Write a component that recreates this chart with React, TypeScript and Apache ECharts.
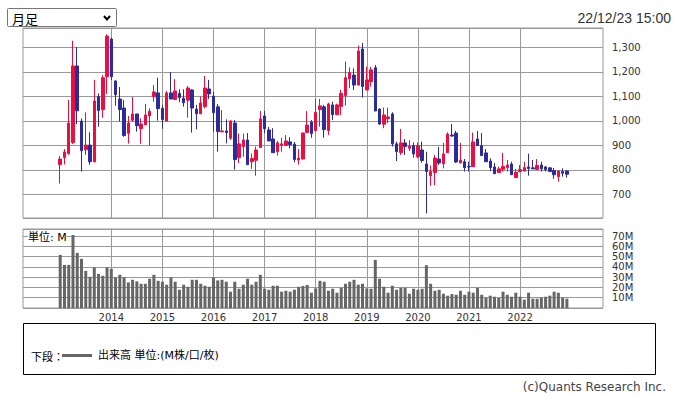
import React, { useEffect, useRef } from "react";
import * as echarts from "echarts";

// Monthly candles, Jan 2013 .. Dec 2022
const MONTHS: string[] = [];
for (let y = 2013; y <= 2022; y++) for (let mo = 1; mo <= 12; mo++) MONTHS.push(`${y}-${String(mo).padStart(2, "0")}`);

const OPEN = [
  822, 850, 866, 911, 1224, 999, 882, 901, 833, 1099, 1046, 1180,
  1334, 1163, 1089, 1052, 949, 1002, 1028, 968, 984, 1020, 1099, 1114,
  1051, 999, 1114, 1087, 1112, 1092, 1084, 1126, 1048, 1029, 1058, 1130,
  1101, 1057, 955, 959, 929, 991, 850, 895, 922, 833, 839, 891,
  1020, 963, 926, 874, 901, 900, 914, 905, 840, 844, 952, 995,
  960, 1046, 1057, 960, 1065, 1025, 1059, 1103, 1172, 1187, 1146, 1293,
  1126, 1160, 1217, 1048, 986, 1009, 1028, 906, 870, 910, 888, 899,
  854, 881, 824, 776, 789, 844, 825, 870, 942, 950, 829, 833,
  814, 813, 926, 899, 869, 836, 812, 789, 802, 809, 824, 768,
  793, 795, 812, 808, 801, 820, 812, 808, 797, 772, 793, 795,
];
const CLOSE = [
  844, 873, 991, 1224, 1041, 878, 901, 833, 1081, 1042, 1176, 1346,
  1180, 1107, 1046, 940, 991, 1028, 980, 987, 1024, 1039, 1118, 1050,
  1005, 1114, 1089, 1122, 1095, 1074, 1134, 1052, 1029, 1073, 1134, 1110,
  1033, 956, 959, 952, 999, 842, 906, 922, 821, 846, 881, 1008,
  968, 918, 870, 910, 906, 918, 903, 842, 848, 950, 983, 948,
  1035, 1061, 964, 1069, 1025, 1065, 1112, 1176, 1197, 1146, 1285, 1140,
  1167, 1208, 1040, 987, 1024, 1016, 906, 874, 910, 895, 897, 865,
  899, 838, 793, 793, 848, 828, 865, 946, 938, 832, 840, 809,
  812, 914, 899, 858, 833, 809, 784, 804, 814, 820, 780, 790,
  801, 809, 805, 804, 818, 804, 801, 793, 780, 795, 786, 782,
];
const LOW = [
  744, 822, 862, 905, 986, 793, 861, 821, 830, 976, 1013, 1110,
  1167, 1062, 997, 935, 907, 997, 956, 906, 983, 899, 1078, 1001,
  968, 999, 1089, 1086, 1076, 1058, 1013, 952, 965, 1027, 1051, 1089,
  956, 874, 954, 908, 922, 801, 828, 854, 821, 804, 776, 890,
  949, 917, 870, 858, 874, 899, 888, 831, 821, 843, 951, 931,
  959, 976, 931, 942, 1003, 1024, 1024, 1062, 1133, 1126, 1145, 1095,
  1125, 1140, 1040, 983, 970, 990, 895, 836, 861, 861, 877, 850,
  847, 829, 622, 735, 738, 820, 806, 869, 935, 828, 825, 793,
  793, 812, 898, 857, 833, 795, 784, 788, 793, 793, 780, 768,
  790, 793, 776, 803, 800, 793, 793, 793, 764, 752, 772, 768,
];
const HIGH = [
  857, 885, 1085, 1327, 1301, 1010, 1035, 953, 1167, 1112, 1187, 1353,
  1340, 1165, 1138, 1085, 1020, 1097, 1028, 1010, 1069, 1051, 1146, 1176,
  1065, 1122, 1199, 1171, 1129, 1129, 1142, 1129, 1065, 1099, 1183, 1167,
  1118, 1069, 1044, 1006, 1003, 1003, 948, 948, 950, 867, 895, 1040,
  1040, 975, 970, 918, 931, 942, 933, 914, 885, 953, 1040, 1003,
  1089, 1089, 1065, 1074, 1078, 1070, 1126, 1242, 1218, 1214, 1307, 1318,
  1221, 1221, 1228, 1051, 1054, 1054, 1035, 915, 967, 926, 921, 912,
  912, 915, 874, 817, 861, 893, 910, 953, 987, 959, 910, 844,
  833, 952, 959, 950, 885, 847, 828, 813, 869, 840, 833, 804,
  820, 833, 866, 840, 844, 833, 816, 812, 808, 795, 806, 798,
];
const VOLUME = [
  51.8, 42, 42, 71.2, 53.7, 47.9, 36.2, 30.4, 39.5, 33.3, 31.4, 39.5,
  38.2, 29.8, 32.4, 29.8, 24.9, 27.5, 25.9, 23.6, 23.6, 28.5, 32.4, 26.5,
  25.6, 22.7, 29.8, 25.6, 17.8, 22.7, 20.7, 27.5, 27.5, 23.6, 21.7, 20.7,
  29.8, 26.9, 27.5, 25.6, 15.9, 25.6, 18.8, 22.7, 28.5, 22.7, 25.6, 32.4,
  18.8, 17.8, 21.7, 21.7, 15.9, 16.8, 15.9, 17.8, 20.7, 21.5, 22.5, 14.9,
  19.1, 26.5, 25.6, 16.8, 18.8, 14.9, 19.7, 23.6, 25.6, 27.5, 22.7, 23.6,
  19.1, 18.8, 46.9, 28.5, 20.7, 14.9, 21.7, 17.8, 19.7, 19.7, 13.9, 18.8,
  17.8, 18.8, 41.7, 23.6, 16.8, 17.8, 13.9, 12.0, 13.6, 12.9, 16.8, 12.9,
  15.9, 14.9, 19.7, 12.9, 10.0, 12.0, 11.0, 10.0, 15.9, 12.9, 11.0, 14.9,
  11.0, 8.1, 14.9, 9.1, 9.1, 10.0, 11.0, 12.0, 15.9, 14.9, 10.0, 9.1,
];

const YEAR_TICKS = [0, 12, 24, 36, 48, 60, 72, 84, 96]; // months since Jan 2014
const YEAR_LABELS = ["2014", "2015", "2016", "2017", "2018", "2019", "2020", "2021", "2022"];
const BASE_YEAR = 2014;

const RED = "#ea0f40";
const BLUE = "#2b2b9c";
const GRID = "#999";
const VOL = "#666";

const monthPos = (s: string) => {
  const [y, m] = s.split("-").map(Number);
  return (y - BASE_YEAR) * 12 + (m - 1);
};

export default function App() {
  const ref = useRef<HTMLDivElement>(null);
  useEffect(() => {
    const chart = echarts.init(ref.current!, null, { renderer: "svg" });
    const xs = MONTHS.map(monthPos);
    const candles = xs.map((x, i) => [x, OPEN[i], CLOSE[i], LOW[i], HIGH[i]]);
    const vols = xs.map((x, i) => [x, VOLUME[i]]);
    const yearLines = {
      silent: true,
      symbol: ["none", "none"],
      label: { show: false },
      lineStyle: { color: GRID, width: 1, type: "solid" },
      emphasis: { disabled: true },
      animation: false,
      data: YEAR_TICKS.map((v) => ({ xAxis: v })),
    };
    const X_MIN = -20.74;
    const X_MAX = 115.48;
    const lblFont = "'DejaVu Sans', sans-serif";
    const cjk = "'DejaVu Sans', 'Noto Sans CJK JP', sans-serif";
    chart.setOption({
      animation: false,
      backgroundColor: "#fff",
      grid: [
        { left: 23, top: 28, width: 580, height: 190, show: true, borderColor: GRID, borderWidth: 1, backgroundColor: "transparent" },
        { left: 23, top: 229, width: 580, height: 79, show: true, borderColor: GRID, borderWidth: 1, backgroundColor: "transparent" },
      ],
      xAxis: [
        { gridIndex: 0, type: "value", min: X_MIN, max: X_MAX, axisLine: { show: false }, axisTick: { show: false }, axisLabel: { show: false }, splitLine: { show: false } },
        {
          gridIndex: 1, type: "value", min: X_MIN, max: X_MAX, minInterval: 12, maxInterval: 12,
          axisLine: { show: false }, axisTick: { show: false }, splitLine: { show: false },
          axisLabel: {
            show: true, margin: 4, fontSize: 10, color: "#333", fontFamily: lblFont,
            showMinLabel: false, showMaxLabel: false,
            formatter: (v: number) => {
              const k = YEAR_TICKS.indexOf(Math.round(v * 1000) / 1000);
              return k >= 0 ? YEAR_LABELS[k] : "";
            },
          },
        },
      ],
      yAxis: [
        {
          gridIndex: 0, type: "value", position: "right", min: 603.4, max: 1378.9, splitNumber: 8, minInterval: 100, maxInterval: 100,
          axisLine: { show: true, lineStyle: { color: GRID } },
          axisTick: { show: true, length: 3, lineStyle: { color: GRID } },
          axisLabel: { margin: 9, fontSize: 10, color: "#333", fontFamily: lblFont, showMinLabel: false, showMaxLabel: false, formatter: (v: number) => v.toLocaleString("en-US") },
          splitLine: { show: true, lineStyle: { color: GRID, width: 1 } },
        },
        {
          gridIndex: 1, type: "value", position: "right", min: 0, max: 77, splitNumber: 7, minInterval: 10, maxInterval: 10,
          axisLine: { show: true, lineStyle: { color: GRID } },
          axisTick: { show: true, length: 3, lineStyle: { color: GRID } },
          axisLabel: { margin: 9, fontSize: 10, color: "#333", fontFamily: lblFont, showMinLabel: false, showMaxLabel: false, formatter: (v: number) => `${v}M` },
          splitLine: { show: true, lineStyle: { color: GRID, width: 1 } },
        },
      ],
      series: [
        {
          type: "candlestick", xAxisIndex: 0, yAxisIndex: 0, z: 6, barWidth: 3,
          data: candles,
          itemStyle: { color: RED, color0: BLUE, borderColor: RED, borderColor0: BLUE, borderWidth: 1 },
          markLine: yearLines,
        },
        {
          type: "bar", xAxisIndex: 1, yAxisIndex: 1, z: 6, barWidth: 3,
          data: vols,
          itemStyle: { color: VOL },
          markLine: yearLines,
        },
      ],
      graphic: [
        { type: "rect", shape: { x: 7.5, y: 8.5, width: 109, height: 18, r: 1 }, style: { fill: "#fff", stroke: "#767676", lineWidth: 1 } },
        { type: "text", x: 12, y: 18, style: { text: "月足", font: "13px 'Noto Sans CJK JP', sans-serif", fill: "#000", verticalAlign: "middle" } },
        { type: "polyline", shape: { points: [[104, 16], [107, 19.5], [110, 16]] }, style: { stroke: "#000", lineWidth: 2, fill: "none" } },
        { type: "text", x: 671, y: 17.5, style: { text: "22/12/23 15:00", font: "14px 'Liberation Sans', Arial, sans-serif", fill: "#333", align: "right", verticalAlign: "middle" } },
        { type: "text", x: 28, y: 237.5, z: 100, style: { text: "単位: M", font: `11px ${cjk}`, fill: "#000", verticalAlign: "middle", backgroundColor: "#fff" } },
        { type: "rect", shape: { x: 23.5, y: 323.5, width: 632, height: 51 }, style: { fill: "none", stroke: "#000", lineWidth: 1 } },
        { type: "text", x: 31, y: 355.5, style: { text: "下段：", font: "11px 'Noto Sans CJK JP', sans-serif", fill: "#000", verticalAlign: "middle" } },
        { type: "line", shape: { x1: 62, y1: 355.5, x2: 92, y2: 355.5 }, style: { stroke: VOL, lineWidth: 3 } },
        { type: "text", x: 98, y: 355.5, style: { text: "出来高 単位:(M株/口/枚)", font: `11px ${cjk}`, fill: "#000", verticalAlign: "middle" } },
        { type: "text", x: 666, y: 387, style: { text: "(c)Quants Research Inc.", font: `12px ${lblFont}`, fill: "#444", align: "right", verticalAlign: "middle" } },
      ],
    });
    return () => chart.dispose();
  }, []);
  return <div ref={ref} style={{ position: "fixed", left: 0, top: 0, width: 676, height: 397, background: "#fff" }} />;
}
